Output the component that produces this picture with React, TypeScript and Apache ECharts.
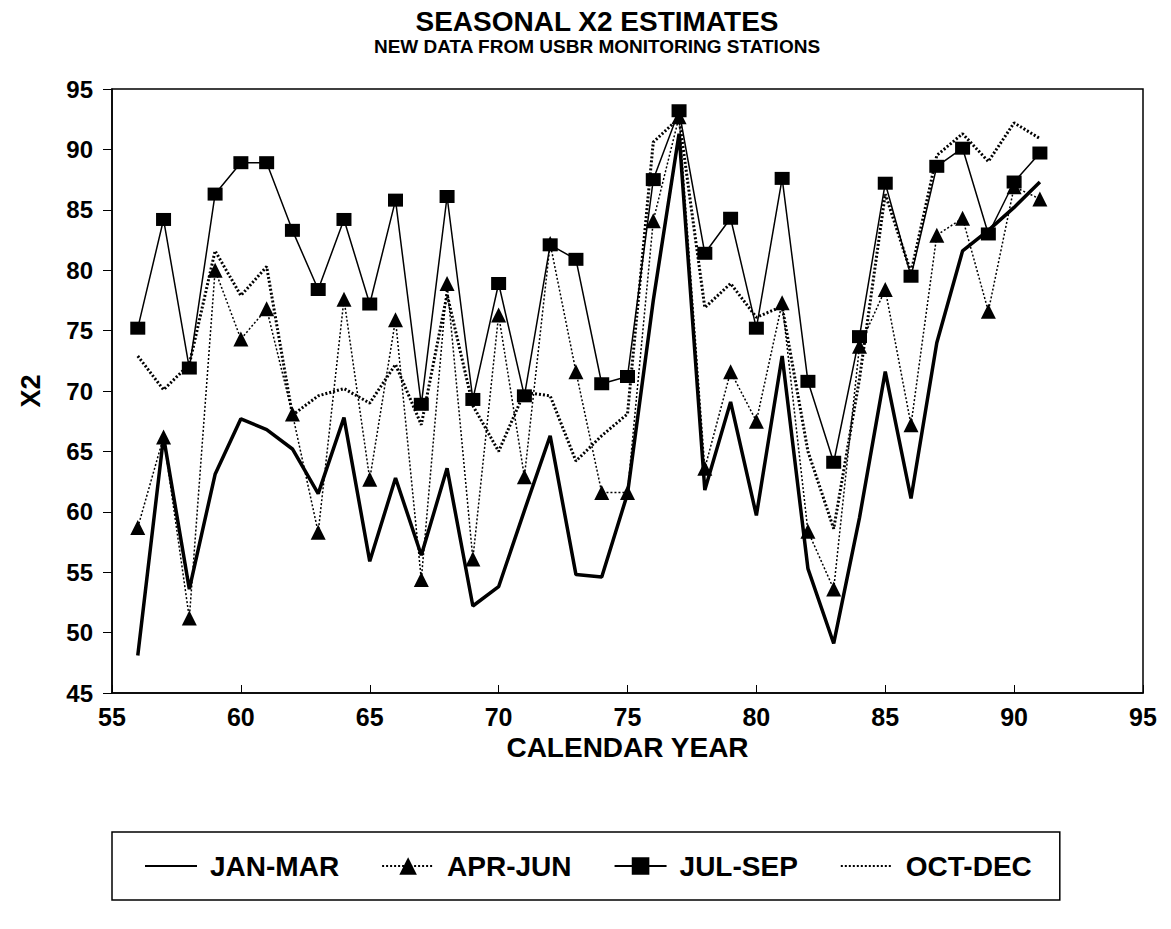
import React, { useEffect, useRef } from "react";
import * as echarts from "echarts";

const years = [56, 57, 58, 59, 60, 61, 62, 63, 64, 65, 66, 67, 68, 69, 70, 71, 72, 73, 74, 75, 76, 77, 78, 79, 80, 81, 82, 83, 84, 85, 86, 87, 88, 89, 90, 91];

const janMar = [48.1, 66.2, 53.6, 63.1, 67.7, 66.8, 65.2, 61.5, 67.8, 55.9, 62.8, 56.4, 63.6, 52.2, 53.8, 60.1, 66.3, 54.8, 54.6, 61.5, 77.5, 91.3, 61.8, 69.1, 59.7, 72.9, 55.3, 49.1, 59.5, 71.6, 61.1, 74.0, 81.6, 83.3, 85.2, 87.3];
const aprJun = [58.7, 66.2, 51.2, 80.0, 74.3, 76.8, 68.1, 58.3, 77.6, 62.7, 75.9, 54.4, 78.9, 56.1, 76.3, 62.9, 82.2, 71.6, 61.6, 61.6, 84.1, 92.7, 63.6, 71.6, 67.5, 77.3, 58.4, 53.6, 73.7, 78.4, 67.2, 82.9, 84.3, 76.6, 86.9, 85.9];
const julSep = [75.2, 84.2, 71.9, 86.3, 88.9, 88.9, 83.3, 78.4, 84.2, 77.2, 85.8, 68.9, 86.1, 69.3, 78.9, 69.6, 82.1, 80.9, 70.6, 71.2, 87.5, 93.2, 81.4, 84.3, 75.2, 87.6, 70.8, 64.1, 74.5, 87.2, 79.5, 88.6, 90.1, 83.0, 87.3, 89.7];
const octDec = [72.9, 70.1, 72.2, 81.6, 77.9, 80.3, 68.0, 69.6, 70.2, 69.0, 72.2, 67.2, 78.0, 68.8, 65.0, 69.9, 69.6, 64.2, 66.3, 68.1, 90.6, 92.6, 76.9, 78.9, 76.1, 77.0, 65.0, 58.6, 71.0, 86.3, 79.8, 89.5, 91.3, 89.0, 92.2, 90.9];

const seriesNames = ["JAN-MAR", "APR-JUN", "JUL-SEP", "OCT-DEC"];
const xTicks = { min: 55, max: 95, interval: 5 };
const yTicks = { min: 45, max: 95, interval: 5 };

const FONT = "'Liberation Sans', Arial, Helvetica, sans-serif";

function pairs(vals: number[]) {
  return years.map((y, i) => [y, vals[i]]);
}

const hiddenSymbol = { color: "transparent", borderColor: "transparent", borderWidth: 0, opacity: 0 };

export default function App() {
  const ref = useRef<HTMLDivElement>(null);
  useEffect(() => {
    if (!ref.current) return;
    const chart = echarts.init(ref.current, undefined, { renderer: "svg" });
    chart.setOption({
      animation: false,
      backgroundColor: "#ffffff",
      textStyle: { fontFamily: FONT, color: "#000" },
      title: {
        text: "SEASONAL X2 ESTIMATES",
        subtext: "NEW DATA FROM USBR MONITORING STATIONS",
        left: 592,
        textAlign: "center",
        top: 2,
        itemGap: 2,
        textStyle: { fontFamily: FONT, fontWeight: "bold", fontSize: 28, color: "#000" },
        subtextStyle: { fontFamily: FONT, fontWeight: "bold", fontSize: 19, color: "#000" },
      },
      grid: {
        left: 112,
        right: 28,
        top: 89,
        bottom: 236,
        show: true,
        borderColor: "#000",
        borderWidth: 1.5,
        backgroundColor: "transparent",
      },
      xAxis: {
        type: "value",
        min: xTicks.min,
        max: xTicks.max,
        interval: xTicks.interval,
        name: "CALENDAR YEAR",
        nameLocation: "middle",
        nameGap: 37,
        nameTextStyle: { fontFamily: FONT, fontWeight: "bold", fontSize: 28, color: "#000" },
        axisLine: { lineStyle: { color: "#000", width: 1.5 } },
        axisTick: { inside: true, length: 8, lineStyle: { color: "#000", width: 1 } },
        axisLabel: { fontFamily: FONT, fontWeight: "bold", fontSize: 25, color: "#000", margin: 11 },
        splitLine: { show: false },
      },
      yAxis: {
        type: "value",
        min: yTicks.min,
        max: yTicks.max,
        interval: yTicks.interval,
        name: "X2",
        nameLocation: "middle",
        nameGap: 68,
        nameRotate: 90,
        nameTextStyle: { fontFamily: FONT, fontWeight: "bold", fontSize: 27, color: "#000" },
        axisLine: { show: true, lineStyle: { color: "#000", width: 1.5 } },
        axisTick: { show: true, inside: false, length: 9, lineStyle: { color: "#000", width: 1 } },
        axisLabel: { fontFamily: FONT, fontWeight: "bold", fontSize: 24, color: "#000", margin: 19 },
        splitLine: { show: false },
      },
      legend: {
        left: 112,
        top: 832,
        orient: "horizontal",
        borderColor: "#000",
        borderWidth: 1.5,
        padding: [20, 28, 20, 32],
        itemGap: 42,
        itemWidth: 52,
        itemHeight: 22,
        textStyle: { fontFamily: FONT, fontWeight: "bold", fontSize: 28, color: "#000", padding: [0, 0, 0, 8] },
        data: [
          { name: seriesNames[0], itemStyle: hiddenSymbol },
          { name: seriesNames[1] },
          { name: seriesNames[2] },
          { name: seriesNames[3], itemStyle: hiddenSymbol },
        ],
      },
      series: [
        {
          name: seriesNames[0],
          type: "line",
          data: pairs(janMar),
          symbol: "none",
          lineStyle: { color: "#000", width: 3.5, type: "solid" },
          itemStyle: { color: "#000" },
        },
        {
          name: seriesNames[1],
          type: "line",
          data: pairs(aprJun),
          symbol: "triangle",
          symbolSize: 15,
          lineStyle: { color: "#000", width: 1.5, type: [2, 2] },
          itemStyle: { color: "#000" },
        },
        {
          name: seriesNames[2],
          type: "line",
          data: pairs(julSep),
          symbol: "rect",
          symbolSize: [15, 13],
          lineStyle: { color: "#000", width: 1.5, type: "solid" },
          itemStyle: { color: "#000" },
        },
        {
          name: seriesNames[3],
          type: "line",
          data: pairs(octDec),
          symbol: "none",
          lineStyle: { color: "#000", width: 3, type: [2, 2] },
          itemStyle: { color: "#000" },
        },
      ],
    });
    return () => chart.dispose();
  }, []);
  return <div ref={ref} style={{ width: 1171, height: 929, position: "absolute", left: 0, top: 0 }} />;
}
